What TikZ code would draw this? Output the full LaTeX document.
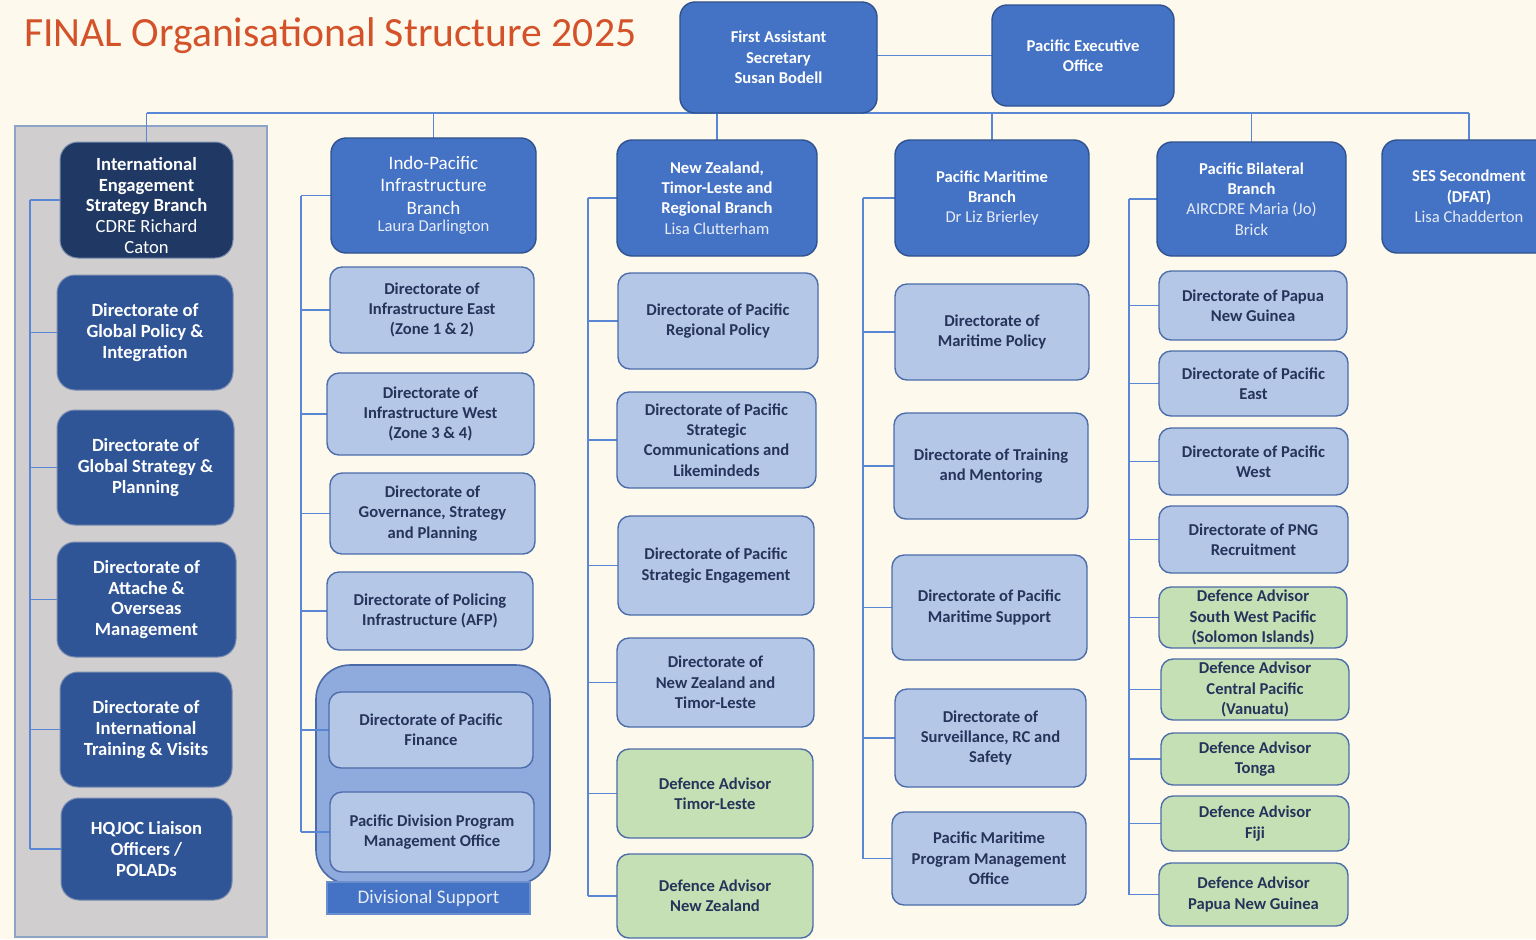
\documentclass[tikz,border=0pt]{standalone}
\usepackage{fontspec}
\setmainfont{Carlito}
\definecolor{bgc}{HTML}{FDF9EC}
\definecolor{titlec}{HTML}{D4522A}
\definecolor{brblue}{HTML}{4472C4}
\definecolor{brborder}{HTML}{2F528F}
\definecolor{ltblue}{HTML}{B4C7E7}
\definecolor{ltborder}{HTML}{4D6DAA}
\definecolor{ltgreen}{HTML}{C5E0B4}
\definecolor{dkblue}{HTML}{2F5597}
\definecolor{dkies}{HTML}{203864}
\definecolor{dkborder}{HTML}{7A8CB0}
\definecolor{panelc}{HTML}{D0CECE}
\definecolor{panelb}{HTML}{8EA3C8}
\definecolor{divc}{HTML}{8FAADC}
\definecolor{divb}{HTML}{4A6AA8}
\definecolor{connc}{HTML}{5A86D6}
\definecolor{dtext}{HTML}{26335A}
\definecolor{namec}{HTML}{E6ECF7}
\newcommand\fs{\fontsize{8.3}{10.2}\selectfont}
\newcommand\fdk{\fontsize{9.3}{10.3}\selectfont}
\newcommand\fIP{\fontsize{9.5}{11.2}\selectfont}
\newcommand\nm{\fs\mdseries\color{namec}}
\newcommand\bx[7]{\node[#2,minimum width={0.5pt*(#5-#3)},minimum height={0.5pt*(#6-#4)}] (#1) at ({(#3+#5)/2},{(#4+#6)/2}) {#7};}
\pgfdeclarelayer{bglayer}
\pgfdeclarelayer{connlayer}
\pgfsetlayers{bglayer,connlayer,main}
\begin{document}
\begin{tikzpicture}[x=0.5pt,y=-0.5pt,
  base/.style={inner sep=0pt,outer sep=0pt,align=center,line width=0.7pt},
  br/.style={base,fill=brblue,draw=brborder,text=white,font=\fs\bfseries,rounded corners=7.5pt},
  lt/.style={base,fill=ltblue,draw=ltborder,text=dtext,font=\fs\bfseries,rounded corners=6pt},
  gr/.style={lt,fill=ltgreen},
  dk/.style={base,fill=dkblue,draw=dkborder,line width=0.5pt,text=white,font=\fdk\bfseries,rounded corners=9pt},
  dki/.style={dk,fill=dkies},
  panelst/.style={base,fill=panelc,draw=panelb,line width=0.7pt},
  divst/.style={base,fill=divc,draw=divb,line width=0.8pt,rounded corners=17pt},
  divlbl/.style={base,fill=brblue,draw=brblue!80!white,text=namec,font=\fontsize{9.6}{11}\selectfont},
  conn/.style={draw=connc,line width=0.7pt}]
\useasboundingbox (0,0) rectangle (1536,939);
\begin{pgfonlayer}{bglayer}
\fill[bgc] (0,0) rectangle (1536,939);
\bx{panel}{panelst}{15}{126}{267}{937}{}
\bx{divouter}{divst}{316}{665}{550}{884}{}
\end{pgfonlayer}
\node[anchor=base west,text=titlec,font=\fontsize{20.8}{25}\selectfont,inner sep=0pt] (title) at (24,46) {FINAL Organisational Structure 2025};
% top
\bx{fas}{br}{680}{2}{877}{113}{First Assistant\\Secretary\\Susan Bodell}
\bx{peo}{br}{992}{5}{1174}{106}{Pacific Executive\\Office}
% column 1
\bx{ies}{dki}{60}{142}{233}{258}{\rule{0pt}{12pt}International\\Engagement\\Strategy Branch\\\mdseries CDRE Richard\\\mdseries Caton}
\bx{gp}{dk}{57}{275}{233}{390}{Directorate of\\Global Policy \&\\Integration}
\bx{gs}{dk}{57}{410}{234}{525}{Directorate of\\Global Strategy \&\\Planning}
\bx{at}{dk}{57}{542}{236}{657}{Directorate of\\Attache \&\\Overseas\\Management}
\bx{it}{dk}{60}{672}{232}{787}{Directorate of\\International\\Training \& Visits}
\bx{hq}{dk}{61}{798}{232}{900}{HQJOC Liaison\\Officers /\\POLADs}
% column 2
\bx{ipi}{br,font=\fIP\mdseries}{331}{138}{536}{253}{Indo-Pacific\\Infrastructure\\Branch\\[-2.5pt]\nm Laura Darlington}
\bx{ie}{lt}{330}{267}{534}{353}{Directorate of\\Infrastructure East\\(Zone 1 \& 2)}
\bx{iw}{lt}{327}{373}{534}{455}{Directorate of\\Infrastructure West\\(Zone 3 \& 4)}
\bx{gv}{lt}{330}{473}{535}{554}{Directorate of\\Governance, Strategy\\and Planning}
\bx{po}{lt}{327}{572}{533}{650}{Directorate of Policing\\Infrastructure (AFP)}
\bx{fin}{lt}{329}{692}{533}{768}{Directorate of Pacific\\Finance}
\bx{pmo}{lt}{330}{792}{534}{872}{Pacific Division Program\\Management Office}
\bx{dl}{divlbl}{327}{882}{530}{914}{Divisional Support}
% column 3
\bx{nzb}{br}{617}{140}{817}{256}{New Zealand,\\Timor-Leste and\\Regional Branch\\\nm Lisa Clutterham}
\bx{rp}{lt}{618}{273}{818}{369}{Directorate of Pacific\\Regional Policy}
\bx{sc}{lt}{617}{392}{816}{488}{Directorate of Pacific\\Strategic\\Communications and\\Likemindeds}
\bx{se}{lt}{618}{516}{814}{615}{Directorate of Pacific\\Strategic Engagement}
\bx{nt}{lt}{617}{638}{814}{727}{Directorate of\\New Zealand and\\Timor-Leste}
\bx{datl}{gr}{617}{749}{813}{838}{Defence Advisor\\Timor-Leste}
\bx{danz}{gr}{617}{854}{813}{938}{Defence Advisor\\New Zealand}
% column 4
\bx{pmb}{br}{895}{140}{1089}{256}{Pacific Maritime\\Branch\\\nm Dr Liz Brierley}
\bx{mp}{lt}{895}{284}{1089}{380}{Directorate of\\Maritime Policy}
\bx{tm}{lt}{894}{413}{1088}{519}{Directorate of Training\\and Mentoring}
\bx{ms}{lt}{892}{555}{1087}{660}{Directorate of Pacific\\Maritime Support}
\bx{sv}{lt}{895}{689}{1086}{787}{Directorate of\\Surveillance, RC and\\Safety}
\bx{mpo}{lt}{892}{812}{1086}{905}{Pacific Maritime\\Program Management\\Office}
% column 5
\bx{pbb}{br}{1157}{142}{1346}{256}{Pacific Bilateral\\Branch\\\nm AIRCDRE Maria (Jo)\\\nm Brick}
\bx{png}{lt}{1159}{271}{1347}{340}{Directorate of Papua\\New Guinea}
\bx{pe}{lt}{1159}{351}{1348}{416}{Directorate of Pacific\\East}
\bx{pw}{lt}{1159}{428}{1348}{495}{Directorate of Pacific\\West}
\bx{pr}{lt}{1159}{506}{1348}{573}{Directorate of PNG\\Recruitment}
\bx{swp}{gr}{1159}{587}{1347}{648}{Defence Advisor\\South West Pacific\\(Solomon Islands)}
\bx{cp}{gr}{1161}{659}{1349}{720}{Defence Advisor\\Central Pacific\\(Vanuatu)}
\bx{to}{gr}{1161}{733}{1349}{785}{Defence Advisor\\Tonga}
\bx{fj}{gr}{1161}{796}{1349}{851}{Defence Advisor\\Fiji}
\bx{dpng}{gr}{1159}{863}{1348}{926}{Defence Advisor\\Papua New Guinea}
% column 6
\bx{ses}{br}{1382}{140}{1556}{253}{SES Secondment\\(DFAT)\\\nm Lisa Chadderton}
% connectors
\begin{pgfonlayer}{connlayer}
\draw[conn] (peo.west -| fas.east) -- (peo.west);
\draw[conn] (ies.north |- fas.south) -- (ses.north |- fas.south);
\foreach \n in {ies,ipi,nzb,pmb,pbb,ses} \draw[conn] (\n.north) -- (\n.north |- fas.south);
\coordinate (t1) at (30,0);
\coordinate (t2) at (301,0);
\coordinate (t3) at (588,0);
\coordinate (t4) at (863,0);
\coordinate (t5) at (1129,0);
\draw[conn] (t1 |- ies.west) -- (t1 |- hq.west);
\foreach \n in {ies,gp,gs,at,it,hq} \draw[conn] (t1 |- \n.west) -- (\n.west);
\draw[conn] (t2 |- ipi.west) -- (t2 |- pmo.west);
\foreach \n in {ipi,ie,iw,gv,po,fin,pmo} \draw[conn] (t2 |- \n.west) -- (\n.west);
\draw[conn] (t3 |- nzb.west) -- (t3 |- danz.west);
\foreach \n in {nzb,rp,sc,se,nt,datl,danz} \draw[conn] (t3 |- \n.west) -- (\n.west);
\draw[conn] (t4 |- pmb.west) -- (t4 |- mpo.west);
\foreach \n in {pmb,mp,tm,ms,sv,mpo} \draw[conn] (t4 |- \n.west) -- (\n.west);
\draw[conn] (t5 |- pbb.west) -- (t5 |- dpng.west);
\foreach \n in {pbb,png,pe,pw,pr,swp,cp,to,fj,dpng} \draw[conn] (t5 |- \n.west) -- (\n.west);
\end{pgfonlayer}
\end{tikzpicture}
\end{document}
